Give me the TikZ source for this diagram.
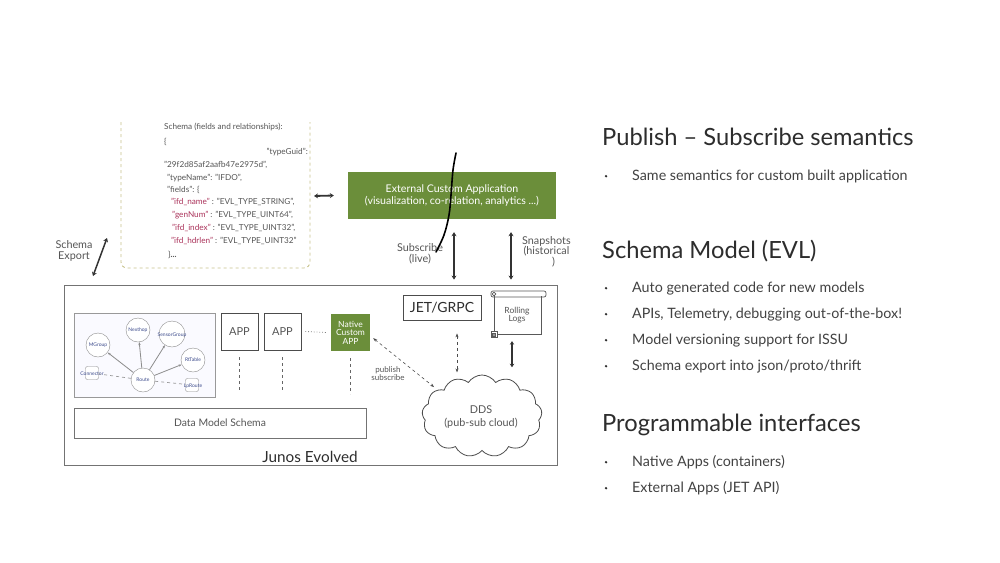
\documentclass[tikz,border=0pt]{standalone}
\usepackage{fontspec}
\setmainfont{Lato}
\usetikzlibrary{shapes.symbols,arrows.meta,calc}
\definecolor{evgreen}{RGB}{107,142,58}
\definecolor{txtgray}{RGB}{85,85,85}
\definecolor{headgray}{RGB}{45,45,45}
\definecolor{keyred}{RGB}{170,50,90}
\definecolor{graphblue}{RGB}{60,75,140}
\definecolor{dashyellow}{RGB}{200,195,140}
\tikzset{
  fs/.style={font=\fontsize{#1}{#1}\selectfont},
  box/.style={draw=black!70, line width=0.8pt, inner sep=0pt},
  greenbox/.style={fill=evgreen, text=white, inner sep=0pt, align=center},
  dbl/.style={line width=1.8pt, draw=black!80, {Stealth[length=4pt,width=5pt]}-{Stealth[length=4pt,width=5pt]}},
  dashdbl/.style={dashed, line width=0.6pt, draw=black!70, {Stealth[length=4pt]}-{Stealth[length=4pt]}},
  code/.style={anchor=base west, fs=8.2, text=txtgray, inner sep=0pt},
  gnode/.style={circle, draw=black!45, fill=white, minimum size=24pt, inner sep=0pt, fs=5, text=graphblue},
  gsq/.style={rounded corners=2pt, draw=black!45, fill=white, minimum size=13pt, inner sep=0pt},
  glab/.style={fs=5, text=graphblue, inner sep=0pt},
  garrow/.style={draw=black!45, line width=0.8pt, -{Stealth[length=3pt]}},
  head/.style={anchor=base west, fs=23.7, text=headgray, inner sep=0pt},
  bul/.style={anchor=base west, fs=14.3, text=headgray!90, inner sep=0pt},
  lbl/.style={fs=10.8, text=txtgray, align=center, inner sep=0pt}
}
\begin{document}
\begin{tikzpicture}[x=1pt,y=-1pt]
\useasboundingbox[fill=white] (0,0) rectangle (1000,562);

% schema dashed box (open top)
\draw[dashyellow, dashed, line width=0.9pt, rounded corners=6pt] (121,122) -- (121,268) -- (310,268) -- (310,122);
\node[code] (s1) at (164,129) {Schema (fields and relationships):};
\node[code] (s2) at (164,144) {\{};
\node[code, anchor=base east] (s3) at (308,154) {"typeGuid":};
\node[code] (s4) at (164,167) {"29f2d85af2aafb47e2975d",};
\node[code] (s5) at (167,180) {"typeName": "IFDO",};
\node[code] (s6) at (167,192) {"fields": \{};
\node[code] (s7) at (171,204) {\textcolor{keyred}{"ifd\_name"} : "EVL\_TYPE\_STRING",};
\node[code] (s8) at (172,217) {\textcolor{keyred}{"genNum"} : "EVL\_TYPE\_UINT64",};
\node[code] (s9) at (172,230) {\textcolor{keyred}{"ifd\_index"} : "EVL\_TYPE\_UINT32",};
\node[code] (s10) at (171,243) {\textcolor{keyred}{"ifd\_hdrlen"} : "EVL\_TYPE\_UINT32"};
\node[code] (s11) at (168,257) {\}\textbf{...}};
\coordinate (schR) at (314,196);

% external custom application
\node[greenbox, minimum width=208pt, minimum height=47pt, fs=10.6] (ext) at (452,195.5)
  {External Custom Application\\[1pt](visualization, co-relation, analytics ...)};
\draw[dbl] (schR) -- ([xshift=-14pt]ext.west);

% Junos box
\node[draw=black!55, line width=0.9pt, minimum width=493pt, minimum height=180pt, inner sep=0pt] (junos) at (310.5,375) {};
\node[anchor=base, fs=15.3, text=headgray, inner sep=0pt] (jlab) at (310,462) {Junos Evolved};

% subscribe / snapshots arrows
\draw[dbl] ([xshift=2pt,yshift=-13pt]ext.south) -- ([xshift=2pt,yshift=5pt]ext.south |- junos.north);
\draw[dbl] ([xshift=59pt,yshift=-13pt]ext.south) -- ([xshift=59pt,yshift=5pt]ext.south |- junos.north);
\node[lbl] (sub) at (420,254) {Subscribe\\(live)};
\node[lbl, anchor=north west] (snap) at (522,236) {Snapshots\\(historical\\\hspace*{1.3em})};

% hand-drawn stroke
\draw[black, line width=1.6pt, line cap=round] plot[smooth, tension=0.6] coordinates {(456,153) (453,170) (451,195) (449,215) (444,235) (436,252)};

% schema export
\node[lbl] (sexp) at (74,251) {Schema\\Export};
\coordinate (sexpA) at (93,276);
\coordinate (sexpB) at (107,238);
\draw[line width=1.5pt, draw=black!80, {Stealth[length=4pt,width=5pt]}-{Stealth[length=4pt,width=5pt]}] (sexpA) -- (sexpB);

% graph box
\node[draw=black!40, fill=black!3!blue!2, minimum width=141pt, minimum height=84pt, inner sep=0pt] (gbox) at (144.5,355) {};
\node[gnode] (route) at (143,380) {Route};
\node[gnode] (mgroup) at (98,345) {MGroup};
\node[gnode] (nexthop) at (138,330) {Nexthop};
\node[gnode, minimum size=26pt] (sensor) at (172,334) {};
\node[glab] at (172,335) {SensorGroup};
\node[gnode] (rttable) at (193,360) {RtTable};
\node[gsq] (conn) at (92,373) {};
\node[glab] at (92,374) {Connector};
\node[gsq] (lproute) at (192,385) {};
\node[glab] at (193,386) {LpRoute};
\draw[garrow] (route) -- (mgroup);
\draw[garrow] (route) -- (nexthop);
\draw[garrow] (route) -- (sensor);
\draw[garrow] (route) -- (rttable);
\draw[draw=black!40, dashed, line width=0.7pt] (route) -- (conn);
\draw[draw=black!40, dashed, line width=0.7pt] (route) -- (lproute);

% apps
\node[box, minimum width=37pt, minimum height=37pt, fs=11, text=txtgray] (app1) at (239.5,331.5) {APP};
\node[box, minimum width=37pt, minimum height=37pt, fs=11, text=txtgray] (app2) at (282.5,331.5) {APP};
\node[greenbox, minimum width=39pt, minimum height=37pt, fs=8.5] (native) at (350.5,332.5) {Native\\Custom\\APP};
\draw[dotted, line width=0.8pt, black!50] ([xshift=4pt]app2.east) -- ([xshift=-4pt]native.west);
\foreach \n in {app1,app2,native}{
  \draw[dashed, line width=0.6pt, black!60] ([yshift=-7pt]\n.south) -- ([yshift=-43pt]\n.south);
}

% data model schema
\node[draw=black!55, line width=0.8pt, minimum width=292pt, minimum height=30pt, inner sep=0pt, fs=10.4, text=txtgray] (dms) at (220,423) {Data Model Schema};

% JET/GRPC
\node[box, minimum width=78pt, minimum height=25pt, fs=14, text=headgray] (jet) at (442,307.5) {JET/GRPC};

% rolling logs scroll
\node[minimum width=46pt, minimum height=40pt, inner sep=0pt, fs=8.5, text=txtgray, align=center] (logs) at (517,315) {Rolling\\Logs};
\draw[black!65, line width=0.7pt] (494,295) -- (494,332) (541,296) -- (541,334) -- (497,334);
\draw[black!65, line width=0.7pt, rounded corners=2pt] (491,291) rectangle (546,297);
\draw[black!65, line width=0.7pt] (494,294) circle (1.8pt);
\draw[black!65, line width=0.7pt] (491,331) rectangle (497,337);
\draw[black!65, fill=black!40, line width=0.5pt] (492.5,333.5) rectangle (495,336);

% DDS cloud
\node[cloud, draw=black!70, line width=0.8pt, cloud puffs=13, cloud puff arc=115, aspect=1.45, minimum width=120pt, minimum height=82pt, inner sep=0pt] (dds) at (482,416) {};
\node[fs=10.8, text=txtgray, align=center, inner sep=0pt] (ddslab) at (481,417) {DDS\\[2pt](pub-sub cloud)};

% connectors to cloud
\coordinate (pubB) at (434,387);
\draw[dashdbl] ([xshift=3pt,yshift=13pt]native.south east) -- (pubB);
\node[fs=8, text=txtgray, align=center, inner sep=0pt] (publab) at (388,374) {publish\\subscribe};
\draw[dashdbl] ([xshift=15pt,yshift=-13pt]jet.south) -- ([xshift=15pt,yshift=-52pt]jet.south);
\draw[line width=1.6pt, draw=black!80, {Stealth[length=3.5pt,width=4.5pt]}-{Stealth[length=3.5pt,width=4.5pt]}] ([xshift=-5pt,yshift=-6pt]logs.south) -- ([xshift=-5pt,yshift=-32pt]logs.south);

% right side text
\node[head] (h1) at (602,145) {Publish – Subscribe semantics};
\node[bul] (b1) at (632,180) {Same semantics for custom built application};
\node[head] (h2) at (602,258) {Schema Model (EVL)};
\node[bul] (b2) at (632,292) {Auto generated code for new models};
\node[bul] (b3) at (632,318) {APIs, Telemetry, debugging out-of-the-box!};
\node[bul] (b4) at (632,344) {Model versioning support for ISSU};
\node[bul] (b5) at (632,370) {Schema export into json/proto/thrift};
\node[head] (h3) at (602,431) {Programmable interfaces};
\node[bul] (b6) at (632,466) {Native Apps (containers)};
\node[bul] (b7) at (632,492) {External Apps (JET API)};
\foreach \b in {b1,b2,b3,b4,b5,b6,b7}{
  \fill[headgray] ([xshift=-26pt,yshift=3.8pt]\b.base west) circle (1.3pt);
}
\end{tikzpicture}
\end{document}
